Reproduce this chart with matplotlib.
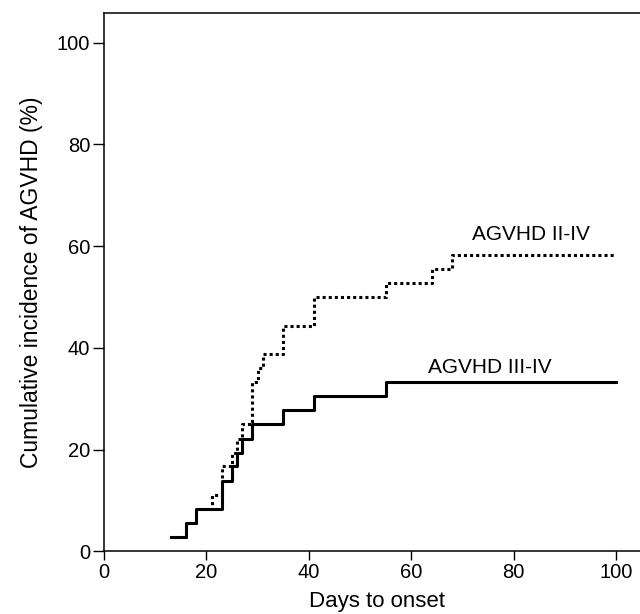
import matplotlib
matplotlib.use("Agg")
import matplotlib.pyplot as plt

plt.rcParams['font.family'] = ['Liberation Sans', 'DejaVu Sans']

# AGVHD II-IV (dotted)
days_2_4 = [13, 16, 18, 21, 23, 25, 26, 27, 29, 30, 31, 35, 41, 55, 64, 68, 100]
inc_2_4 = [2.8, 5.6, 8.3, 11.1, 16.7, 19.4, 22.2, 25.0, 33.3, 36.1, 38.9,
           44.4, 50.0, 52.8, 55.6, 58.3, 58.3]

# AGVHD III-IV (solid)
days_3_4 = [13, 16, 18, 23, 25, 26, 27, 29, 35, 41, 55, 100]
inc_3_4 = [2.8, 5.6, 8.3, 13.9, 16.7, 19.4, 22.2, 25.0, 27.8, 30.6, 33.3, 33.3]

fig = plt.figure(figsize=(6.4, 6.14), dpi=100)
ax = fig.add_axes([0.1625, 0.1018, 0.8375, 0.877])

ax.step(days_2_4, inc_2_4, where='post', color='black', lw=2.2,
        linestyle=(0, (1, 1)))
ax.step(days_3_4, inc_3_4, where='post', color='black', lw=2.2)

ax.text(71.9, 61.2, 'AGVHD II-IV', fontsize=15, va='baseline')
ax.text(63.2, 35.1, 'AGVHD III-IV', fontsize=15, va='baseline')

ax.set_xlim(0, 104.7)
ax.set_ylim(0, 105.8)
ax.set_xticks([0, 20, 40, 60, 80, 100])
ax.set_yticks([0, 20, 40, 60, 80, 100])
ax.tick_params(direction='out', width=1, labelsize=14.5, pad=2)
ax.tick_params(axis='x', length=6.5)
ax.tick_params(axis='y', length=8)
ax.spines['right'].set_visible(False)
for s in ['left', 'top', 'bottom']:
    ax.spines[s].set_linewidth(1.1)

ax.set_xlabel('Days to onset', fontsize=16)
ax.xaxis.set_label_coords(0.51, -0.073)
ax.set_ylabel('Cumulative incidence of AGVHD (%)', fontsize=16.5, labelpad=10)

fig.savefig('out.png', dpi=100)
